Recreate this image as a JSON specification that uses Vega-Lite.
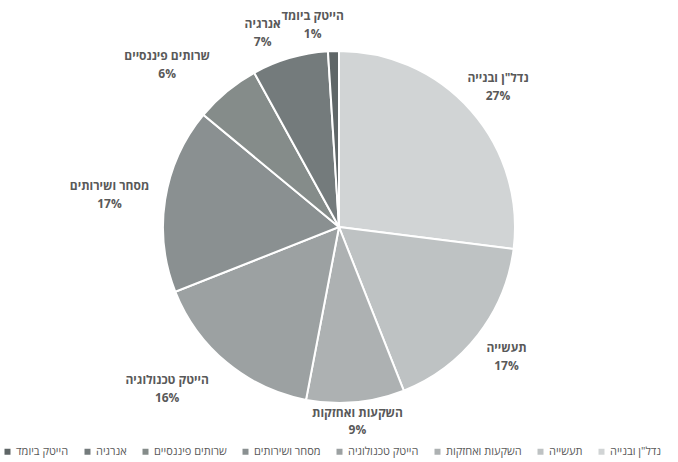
{
  "$schema": "https://vega.github.io/schema/vega-lite/v6.json",
  "width": 678,
  "height": 454,
  "padding": {"top": 0, "left": 0, "right": 0, "bottom": 8},
  "autosize": {"type": "none"},
  "background": "white",
  "config": {"view": {"stroke": null}, "font": "Open Sans, DejaVu Sans, sans-serif"},
  "data": {"values": [
    {"sector": "נדל\"ן ובנייה", "share": 0.27, "order": 1},
    {"sector": "תעשייה", "share": 0.17, "order": 2},
    {"sector": "השקעות ואחזקות", "share": 0.09, "order": 3},
    {"sector": "הייטק טכנולוגיה", "share": 0.16, "order": 4},
    {"sector": "מסחר ושירותים", "share": 0.17, "order": 5},
    {"sector": "שרותים פיננסיים", "share": 0.06, "order": 6},
    {"sector": "אנרגיה", "share": 0.07, "order": 7},
    {"sector": "הייטק ביומד", "share": 0.01, "order": 8}
  ]},
  "encoding": {
    "theta": {"field": "share", "type": "quantitative", "stack": true},
    "order": {"field": "order", "type": "quantitative"}
  },
  "layer": [
    {
      "mark": {"type": "arc", "outerRadius": 176, "stroke": "white", "strokeWidth": 2},
      "encoding": {
        "color": {
          "field": "sector",
          "type": "nominal",
          "scale": {
            "domain": ["הייטק ביומד", "אנרגיה", "שרותים פיננסיים", "מסחר ושירותים", "הייטק טכנולוגיה", "השקעות ואחזקות", "תעשייה", "נדל\"ן ובנייה"],
            "range": ["#5f6667", "#747b7c", "#858c8a", "#8a9091", "#9ca1a2", "#adb1b2", "#bec2c3", "#d1d4d5"]
          },
          "legend": {
            "title": null,
            "orient": "none",
            "direction": "horizontal",
            "legendX": 2,
            "legendY": 446,
            "padding": 0,
            "symbolType": "square",
            "symbolSize": 36,
            "symbolStrokeWidth": 0,
            "symbolOffset": 0,
            "labelFontSize": 11,
            "labelColor": "#595959",
            "labelOffset": 3,
            "columnPadding": 13,
            "labelLimit": 200
          }
        }
      }
    },
    {
      "mark": {"type": "text", "radius": 212, "dy": -9, "fontSize": 12, "fontWeight": "bold", "fill": "#595959"},
      "encoding": {"text": {"condition": {"test": "datum.order <= 2", "field": "sector", "type": "nominal"}, "value": ""}}
    },
    {
      "mark": {"type": "text", "radius": 212, "dy": 9, "fontSize": 12, "fontWeight": "bold", "fill": "#595959"},
      "encoding": {"text": {"condition": {"test": "datum.order <= 2", "field": "share", "type": "quantitative", "format": ".0%"}, "value": ""}}
    },
    {
      "mark": {"type": "text", "radius": 196, "dy": -9, "fontSize": 12, "fontWeight": "bold", "fill": "#595959"},
      "encoding": {"text": {"condition": {"test": "datum.order == 3", "field": "sector", "type": "nominal"}, "value": ""}}
    },
    {
      "mark": {"type": "text", "radius": 196, "dy": 8, "fontSize": 12, "fontWeight": "bold", "fill": "#595959"},
      "encoding": {"text": {"condition": {"test": "datum.order == 3", "field": "share", "type": "quantitative", "format": ".0%"}, "value": ""}}
    },
    {
      "mark": {"type": "text", "radius": 210, "dx": -38, "dy": -9, "fontSize": 12, "fontWeight": "bold", "fill": "#595959"},
      "encoding": {"text": {"condition": {"test": "datum.order == 4 || datum.order == 6", "field": "sector", "type": "nominal"}, "value": ""}}
    },
    {
      "mark": {"type": "text", "radius": 210, "dx": -38, "dy": 9, "fontSize": 12, "fontWeight": "bold", "fill": "#595959"},
      "encoding": {"text": {"condition": {"test": "datum.order == 4 || datum.order == 6", "field": "share", "type": "quantitative", "format": ".0%"}, "value": ""}}
    },
    {
      "mark": {"type": "text", "radius": 205, "dx": -27, "dy": -9, "fontSize": 12, "fontWeight": "bold", "fill": "#595959"},
      "encoding": {"text": {"condition": {"test": "datum.order == 5", "field": "sector", "type": "nominal"}, "value": ""}}
    },
    {
      "mark": {"type": "text", "radius": 205, "dx": -27, "dy": 9, "fontSize": 12, "fontWeight": "bold", "fill": "#595959"},
      "encoding": {"text": {"condition": {"test": "datum.order == 5", "field": "share", "type": "quantitative", "format": ".0%"}, "value": ""}}
    },
    {
      "mark": {"type": "text", "radius": 202, "dx": -20, "dy": -9, "fontSize": 12, "fontWeight": "bold", "fill": "#595959"},
      "encoding": {"text": {"condition": {"test": "datum.order >= 7", "field": "sector", "type": "nominal"}, "value": ""}}
    },
    {
      "mark": {"type": "text", "radius": 202, "dx": -20, "dy": 9, "fontSize": 12, "fontWeight": "bold", "fill": "#595959"},
      "encoding": {"text": {"condition": {"test": "datum.order >= 7", "field": "share", "type": "quantitative", "format": ".0%"}, "value": ""}}
    }
  ]
}
